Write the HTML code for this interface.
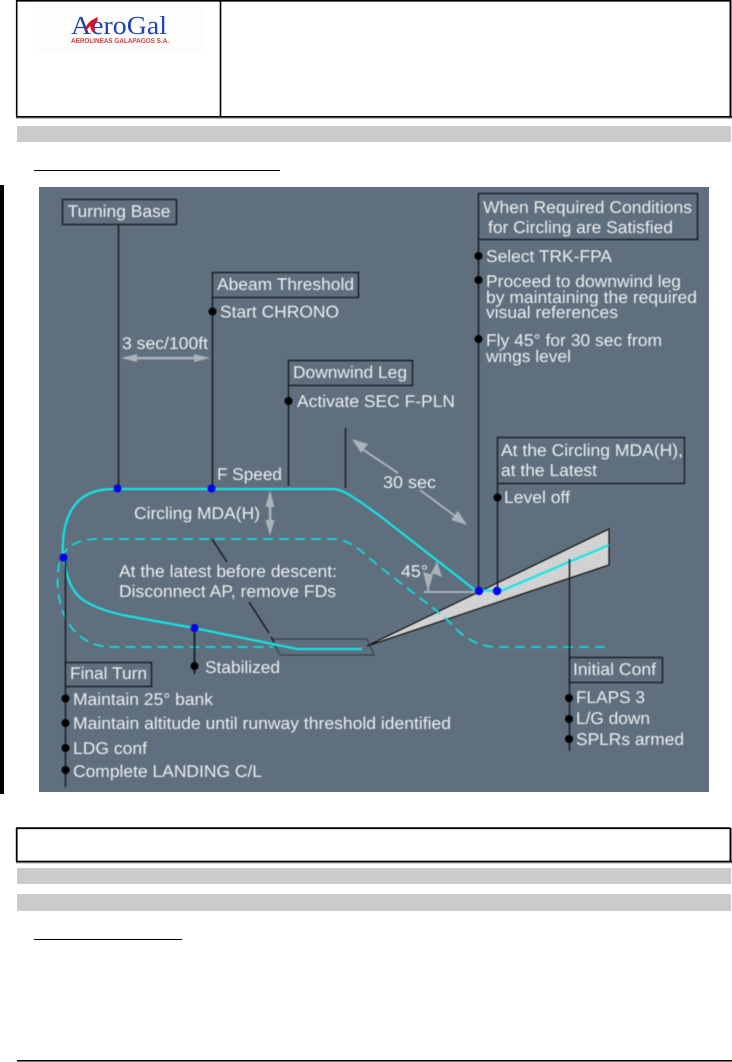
<!DOCTYPE html>
<html>
<head>
<meta charset="utf-8">
<style>
html,body{margin:0;padding:0;background:#fff;width:732px;height:1062px;overflow:hidden}
svg{display:block}
text{text-rendering:geometricPrecision}
.t text{font-family:"Liberation Sans",sans-serif;font-size:17px;fill:#eceff1}
</style>
</head>
<body>
<svg width="732" height="1062" viewBox="0 0 732 1062" xmlns="http://www.w3.org/2000/svg">
<rect width="732" height="1062" fill="#fff"/>
<!-- header -->
<rect x="33" y="6" width="170" height="46" fill="#fdfdfd"/>
<g style="filter:blur(.3px)">
<text x="71" y="34" font-family="Liberation Serif,serif" font-size="26" fill="#2244b0" textLength="96" lengthAdjust="spacingAndGlyphs">AeroGal</text>
<path d="M85 32C85 25 90 20 98 17L97 22L93 24L95 30L92 32L90 26Z" fill="#e01020"/>
<text x="71" y="43" font-family="Liberation Sans,sans-serif" font-weight="bold" font-size="7" fill="#d83838" textLength="98" lengthAdjust="spacingAndGlyphs">AEROLINEAS GALAPAGOS S.A.</text>
</g>
<path d="M16 0.8H730.5M16.7 0V117.5M220.5 0V117" fill="none" stroke="#000" stroke-width="1.6"/>
<rect x="729.5" y="0" width="2" height="118" fill="#000"/>
<rect x="16" y="116" width="716" height="1.6" fill="#000"/>
<rect x="16" y="117.6" width="716" height="1" fill="#888"/>
<rect x="17" y="126" width="714" height="16" fill="#cbcbcb"/>
<rect x="34" y="170" width="246" height="1" fill="#000"/>
<rect x="0" y="185" width="4" height="609" fill="#000"/>
<!-- diagram -->
<rect x="39" y="187" width="670" height="605" fill="#5f6f7e"/>
<g style="filter:blur(.4px)">
<!-- wedge -->
<path d="M367 646L609 529V565Z" fill="#d2d2d2" stroke="none"/>
<path d="M367 646L609 529V565Z" fill="none" stroke="#111" stroke-width="1.2"/>
<!-- runway -->
<path d="M272 639H367L374 655H280Z" fill="none" stroke="#2c3844" stroke-width="1"/>
<!-- dashed path -->
<path d="M605 647H495C480 646 470 641 458 631C450 622 442 615 433 608L380 567L360 550C350 543 343 539 333 539H97C78 539 66 546 60 560C55 580 58 603 66 619C74 634 88 645 107 647H273" fill="none" stroke="#10dde0" stroke-width="1.8" stroke-dasharray="10 6"/>
<!-- solid cyan -->
<path d="M63 558C61 520 72 489 113 489H333C345 490 352 497 362 503L380 516L475 590L497 591L503 590L609 545" fill="none" stroke="#10e6e8" stroke-width="2.2"/>
<path d="M64 558C66 578 72 592 83 600C95 608 115 614 133 617L194 628L297 649H362" fill="none" stroke="#10e6e8" stroke-width="2.2"/>
<!-- gray arrows -->
<g fill="#aab2ba" stroke="none">
<rect x="130" y="356.8" width="72" height="2.6"/>
<path d="M121 358L137 354V362Z"/><path d="M210 358L194 354V362Z"/>
<rect x="268.8" y="500" width="2.6" height="26"/>
<path d="M270 490L265.5 507H274.5Z"/><path d="M270 536L265.5 520H274.5Z"/>
<path d="M352 439L368 444L361 453Z"/>
<path d="M467 525L451 520L458 511Z"/>
<rect x="424" y="591" width="51" height="2"/>
<path d="M437 561L442 577L432 573Z"/>
<path d="M428 591L433 575L423 572Z"/>
</g>
<path d="M362 449L398 473M420 490L455 516" stroke="#aab2ba" stroke-width="2" fill="none"/>
<path d="M428 591Q429 576 437 565" stroke="#aab2ba" stroke-width="2" fill="none"/>
<!-- black lines -->
<g stroke="#161c22" stroke-width="1.5" fill="none">
<path d="M118.5 224V488M212.5 297V488M288.5 385V486M345.5 428V488M478.5 239V591M497.5 483V591"/>
<path d="M65.5 558V787M569.5 559V751"/>
<path d="M212 539L227 562M249 602L269 633M271 637L274 642"/>
<path d="M194.5 628V674" stroke-width="1.8"/>
</g>
<!-- label boxes -->
<g fill="#5f6f7e" stroke="#161c22" stroke-width="1.4">
<rect x="62.5" y="199.5" width="114" height="25"/>
<rect x="212.5" y="272.5" width="146" height="25"/>
<rect x="288.5" y="360.5" width="124" height="25"/>
<rect x="478.5" y="193.5" width="219" height="46"/>
<rect x="497.5" y="437.5" width="187" height="46"/>
<rect x="65.5" y="662.5" width="86" height="24"/>
<rect x="569.5" y="657.5" width="93" height="25"/>
</g>
<!-- blue dots -->
<g fill="#0000f0">
<circle cx="117.5" cy="488.5" r="4"/><circle cx="211.5" cy="488.5" r="4"/>
<circle cx="63.5" cy="557.5" r="4"/><circle cx="194.5" cy="628" r="4"/>
<circle cx="479" cy="591" r="4.2"/><circle cx="497" cy="591" r="4.2"/>
</g>
<!-- black dots -->
<g fill="#000">
<circle cx="212.5" cy="311.5" r="4"/><circle cx="288.5" cy="401" r="4"/>
<circle cx="478.5" cy="256" r="4"/><circle cx="478.5" cy="280" r="4"/><circle cx="478.5" cy="339" r="4"/>
<circle cx="497.5" cy="497.5" r="4"/><circle cx="194.5" cy="666" r="4"/>
<circle cx="65.5" cy="698.5" r="4"/><circle cx="65.5" cy="723" r="4"/><circle cx="65.5" cy="748" r="4"/><circle cx="65.5" cy="770" r="4"/>
<circle cx="569" cy="698" r="4"/><circle cx="569" cy="719" r="4"/><circle cx="569" cy="739" r="4"/>
</g>
<!-- text -->
<g class="t">
<text x="67.5" y="217" textLength="103" lengthAdjust="spacingAndGlyphs">Turning Base</text>
<text x="217" y="290" textLength="137" lengthAdjust="spacingAndGlyphs">Abeam Threshold</text>
<text x="220" y="317.5" textLength="119" lengthAdjust="spacingAndGlyphs">Start CHRONO</text>
<text x="122" y="349" textLength="86" lengthAdjust="spacingAndGlyphs">3 sec/100ft</text>
<text x="293" y="378" textLength="114" lengthAdjust="spacingAndGlyphs">Downwind Leg</text>
<text x="297" y="407" textLength="158" lengthAdjust="spacingAndGlyphs">Activate SEC F-PLN</text>
<text x="217" y="480" textLength="65" lengthAdjust="spacingAndGlyphs">F Speed</text>
<text x="483" y="213" textLength="209" lengthAdjust="spacingAndGlyphs">When Required Conditions</text>
<text x="488" y="233" textLength="185" lengthAdjust="spacingAndGlyphs">for Circling are Satisfied</text>
<text x="486" y="262" textLength="126" lengthAdjust="spacingAndGlyphs">Select TRK-FPA</text>
<text x="486" y="287" textLength="195" lengthAdjust="spacingAndGlyphs">Proceed to downwind leg</text>
<text x="486" y="303" textLength="211" lengthAdjust="spacingAndGlyphs">by maintaining the required</text>
<text x="486" y="318" textLength="132" lengthAdjust="spacingAndGlyphs">visual references</text>
<text x="486" y="346" textLength="176" lengthAdjust="spacingAndGlyphs">Fly 45° for 30 sec from</text>
<text x="486" y="362" textLength="85" lengthAdjust="spacingAndGlyphs">wings level</text>
<text x="501" y="456" textLength="182" lengthAdjust="spacingAndGlyphs">At the Circling MDA(H),</text>
<text x="501" y="476" textLength="96" lengthAdjust="spacingAndGlyphs">at the Latest</text>
<text x="504" y="503" textLength="66" lengthAdjust="spacingAndGlyphs">Level off</text>
<text x="383" y="488" textLength="53" lengthAdjust="spacingAndGlyphs">30 sec</text>
<text x="134" y="519" textLength="126" lengthAdjust="spacingAndGlyphs">Circling MDA(H)</text>
<text x="119" y="577" textLength="218" lengthAdjust="spacingAndGlyphs">At the latest before descent:</text>
<text x="119" y="597" textLength="217" lengthAdjust="spacingAndGlyphs">Disconnect AP, remove FDs</text>
<text x="205" y="673" textLength="75" lengthAdjust="spacingAndGlyphs">Stabilized</text>
<text x="70" y="679" textLength="77" lengthAdjust="spacingAndGlyphs">Final Turn</text>
<text x="73" y="705" textLength="140" lengthAdjust="spacingAndGlyphs">Maintain 25° bank</text>
<text x="73" y="729" textLength="378" lengthAdjust="spacingAndGlyphs">Maintain altitude until runway threshold identified</text>
<text x="73" y="754" textLength="74" lengthAdjust="spacingAndGlyphs">LDG conf</text>
<text x="73" y="777" textLength="189" lengthAdjust="spacingAndGlyphs">Complete LANDING C/L</text>
<text x="401" y="577" textLength="27" lengthAdjust="spacingAndGlyphs">45°</text>
<text x="573" y="675" textLength="83" lengthAdjust="spacingAndGlyphs">Initial Conf</text>
<text x="576" y="703" textLength="69" lengthAdjust="spacingAndGlyphs">FLAPS 3</text>
<text x="576" y="724" textLength="74" lengthAdjust="spacingAndGlyphs">L/G down</text>
<text x="576" y="745" textLength="108" lengthAdjust="spacingAndGlyphs">SPLRs armed</text>
</g>
</g>
<!-- lower section -->
<path d="M16 828.2H730.5M16.7 828V862" fill="none" stroke="#000" stroke-width="1.8"/>
<rect x="729.5" y="828" width="2" height="34" fill="#000"/>
<rect x="16" y="860.7" width="716" height="1.6" fill="#000"/>
<rect x="16" y="862.3" width="716" height="1" fill="#777"/>
<rect x="17" y="868" width="714" height="16" fill="#cbcbcb"/>
<rect x="17" y="894" width="714" height="17" fill="#cbcbcb"/>
<rect x="34" y="939" width="148" height="1" fill="#000"/>
<rect x="17" y="1060" width="715" height="1" fill="#000"/>
<rect x="17" y="1061" width="715" height="1" fill="#777"/>
</svg>
</body>
</html>
